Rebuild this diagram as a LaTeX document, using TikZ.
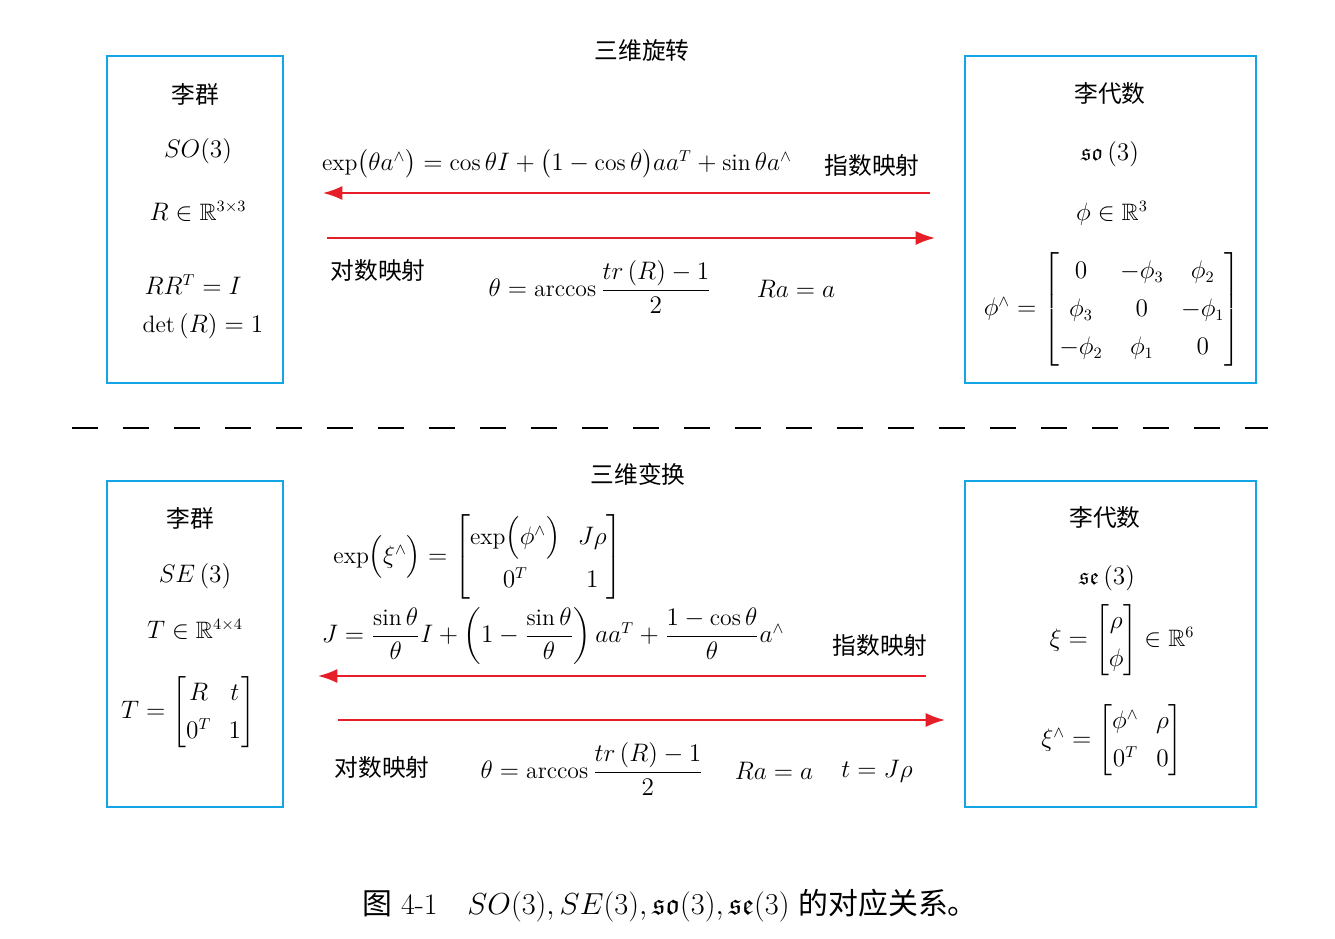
\documentclass[tikz,border=0pt]{standalone}
\usepackage{amsmath,amssymb}
\usepackage{fontspec}
\newfontfamily\cjk{Noto Sans CJK SC}
\usetikzlibrary{arrows.meta}
\definecolor{boxc}{RGB}{20,165,230}
\definecolor{arr}{RGB}{230,30,40}
\tikzset{
  grp/.style={draw=boxc,line width=1.2pt},
  maparrow/.style={draw=arr,line width=1.1pt,-{Latex[length=11pt,width=8pt]}},
  txt/.style={inner sep=1pt,font=\fontsize{13.5}{16}\selectfont}
}
\renewcommand{\arraystretch}{1.35}
\begin{document}
\begin{tikzpicture}[x=0.02cm,y=-0.02cm]
\useasboundingbox (0,0) rectangle (1335,939);
% boxes
\draw[grp] (107,56) rectangle (283,383);
\draw[grp] (965,56) rectangle (1256,383);
\draw[grp] (107,481) rectangle (283,807);
\draw[grp] (965,481) rectangle (1256,807);
% dashed separator
\coordinate (dl) at (72,428); \coordinate (dr) at (1268,428);
\draw[line width=1.3pt,dash pattern=on 0.52cm off 0.5cm] (dl) -- (dr);
% top
\node[txt] (t1) at (642,50) {\cjk 三维旋转};
\node[txt] (lg1) at (195,94) {\cjk 李群};
\node[txt] (so3) at (198,151) {$SO(3)$};
\node[txt] (r33) at (198,211) {$R\in\mathbb{R}^{3\times3}$};
\node[txt] (rrt) at (193,285) {$RR^{T}=I$};
\node[txt] (det) at (203,326) {$\det\left(R\right)=1$};
\node[txt] (la1) at (1110,94) {\cjk 李代数};
\node[txt] (so3a) at (1110,154) {$\mathfrak{so}\left(3\right)$};
\node[txt] (phi) at (1112,213) {$\phi\in\mathbb{R}^{3}$};
\node[txt] (phim) at (1112,309) {$\phi^{\wedge}=\begin{bmatrix}0&-\phi_3&\phi_2\\ \phi_3&0&-\phi_1\\ -\phi_2&\phi_1&0\end{bmatrix}$};
\node[txt] (expf) at (557,164) {$\exp\bigl(\theta a^{\wedge}\bigr)=\cos\theta I+\bigl(1-\cos\theta\bigr)aa^{T}+\sin\theta a^{\wedge}$};
\node[txt] (em1) at (872,166) {\cjk 指数映射};
\node[txt] (lm1) at (378,271) {\cjk 对数映射};
\node[txt] (th1) at (600,287) {$\theta=\arccos\dfrac{tr\left(R\right)-1}{2}$};
\node[txt] (ra1) at (796,289) {$Ra=a$};
\coordinate (a1s) at (930,193); \coordinate (a1e) at (323,193);
\coordinate (a2s) at (327,238); \coordinate (a2e) at (935,238);
\draw[maparrow] (a1s) -- (a1e);
\draw[maparrow] (a2s) -- (a2e);
% bottom
\node[txt] (t2) at (638,474) {\cjk 三维变换};
\node[txt] (lg2) at (190,518) {\cjk 李群};
\node[txt] (se3) at (195,576) {$SE\left(3\right)$};
\node[txt] (t44) at (195,629) {$T\in\mathbb{R}^{4\times4}$};
\node[txt] (tm) at (188,712) {$T=\begin{bmatrix}R&t\\0^{T}&1\end{bmatrix}$};
\node[txt] (la2) at (1105,518) {\cjk 李代数};
\node[txt] (se3a) at (1107,578) {$\mathfrak{se}\left(3\right)$};
\node[txt] (xi) at (1122,640) {$\xi=\begin{bmatrix}\rho\\ \phi\end{bmatrix}\in\mathbb{R}^{6}$};
\node[txt] (xim) at (1112,740) {$\xi^{\wedge}=\begin{bmatrix}\phi^{\wedge}&\rho\\ 0^{T}&0\end{bmatrix}$};
\node[txt] (expse) at (478,557) {$\exp\Bigl(\xi^{\wedge}\Bigr)=\begin{bmatrix}\exp\Bigl(\phi^{\wedge}\Bigr)&J\rho\\ 0^{T}&1\end{bmatrix}$};
\node[txt] (jf) at (553,636) {$J=\dfrac{\sin\theta}{\theta}I+\left(1-\dfrac{\sin\theta}{\theta}\right)aa^{T}+\dfrac{1-\cos\theta}{\theta}a^{\wedge}$};
\node[txt] (em2) at (880,646) {\cjk 指数映射};
\node[txt] (lm2) at (382,768) {\cjk 对数映射};
\node[txt] (th2) at (592,769) {$\theta=\arccos\dfrac{tr\left(R\right)-1}{2}$};
\node[txt] (ra2) at (774,771) {$Ra=a$};
\node[txt] (tj) at (877,771) {$t=J\rho$};
\coordinate (b1s) at (926,676); \coordinate (b1e) at (318,676);
\coordinate (b2s) at (338,720); \coordinate (b2e) at (945,720);
\draw[maparrow] (b1s) -- (b1e);
\draw[maparrow] (b2s) -- (b2e);
% caption
\node[inner sep=1pt,font=\fontsize{17}{20}\selectfont] (cap) at (670,906) {{\cjk 图} 4-1\quad $SO(3),SE(3),\mathfrak{so}(3),\mathfrak{se}(3)$ {\cjk 的对应关系。}};
\end{tikzpicture}
\end{document}
